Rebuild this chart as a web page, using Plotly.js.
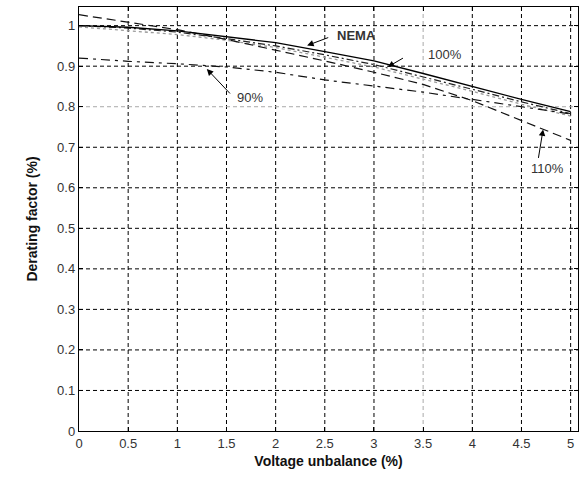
<!DOCTYPE html>
<html>
<head>
<meta charset="utf-8">
<script src="https://cdn.plot.ly/plotly-3.0.1.min.js"></script>
<style>html,body{margin:0;padding:0;background:#fff;}#chart{width:583px;height:477px;}</style>
</head>
<body>
<div id="chart"></div>
<script>
// Voltage unbalance (%)
const unbalance = [0, 0.5, 1, 1.5, 2, 2.5, 3, 3.5, 4, 4.5, 5];
// Derating factor curves
const nema    = [1.000, 0.996, 0.987, 0.972, 0.958, 0.936, 0.913, 0.882, 0.850, 0.818, 0.788];
const load100 = [1.000, 0.994, 0.984, 0.968, 0.950, 0.928, 0.904, 0.874, 0.843, 0.812, 0.783];
const loadGrey= [0.997, 0.988, 0.978, 0.964, 0.946, 0.922, 0.898, 0.868, 0.838, 0.806, 0.777];
const load90  = [0.920, 0.912, 0.906, 0.898, 0.885, 0.866, 0.851, 0.836, 0.818, 0.800, 0.782];
const load110 = [1.027, 1.008, 0.990, 0.966, 0.940, 0.913, 0.885, 0.855, 0.815, 0.765, 0.717];

const xTicks = [0, 0.5, 1, 1.5, 2, 2.5, 3, 3.5, 4, 4.5, 5];
const yTicks = [0, 0.1, 0.2, 0.3, 0.4, 0.5, 0.6, 0.7, 0.8, 0.9, 1];
const xGridGrey = [3.5];
const yGridGrey = [0.8];

const labelText = ['NEMA', '100%', '90%', '110%'];
const labelPos  = [[2.82, 0.975], [3.72, 0.928], [1.74, 0.822], [4.76, 0.647]];
const arrowTail = [[2.55, 0.972], [3.31, 0.922], [1.55, 0.829], [4.67, 0.670]];
const arrowHead = [[2.32, 0.951], [3.14, 0.898], [1.30, 0.893], [4.72, 0.744]];

const traces = [
  {x: unbalance, y: loadGrey, mode: 'lines', line: {color: '#9a9a9a', width: 1.3, dash: '3px,3px'}, hoverinfo: 'skip'},
  {x: unbalance, y: load90, mode: 'lines', line: {color: '#111', width: 1.2, dash: '9px,5px,3px,5px'}},
  {x: unbalance, y: load110, mode: 'lines', line: {color: '#111', width: 1.2, dash: '9px,5px'}},
  {x: unbalance, y: load100, mode: 'lines', line: {color: '#222', width: 1.2, dash: '7px,3px,2px,3px'}},
  {x: unbalance, y: nema, mode: 'lines', line: {color: '#000', width: 1.4}}
];

const shapes = [];
xTicks.filter(v => v > 0).forEach(v => shapes.push({type: 'line', xref: 'x', yref: 'paper', x0: v, x1: v, y0: 0, y1: 1, layer: 'below',
  line: {color: xGridGrey.includes(v) ? '#aaaaaa' : '#000', width: 1, dash: '4px,3px'}}));
yTicks.filter(v => v > 0).forEach(v => shapes.push({type: 'line', xref: 'paper', yref: 'y', x0: 0, x1: 1, y0: v, y1: v, layer: 'below',
  line: {color: yGridGrey.includes(v) ? '#aaaaaa' : '#000', width: 1, dash: '4px,3px'}}));

const annotations = [];
labelText.forEach((t, i) => {
  annotations.push({x: labelPos[i][0], y: labelPos[i][1], xref: 'x', yref: 'y', text: t === 'NEMA' ? '<b>NEMA</b>' : t, showarrow: false,
    font: {family: 'Liberation Sans, Arial, sans-serif', size: 13, color: '#333'}});
  annotations.push({x: arrowHead[i][0], y: arrowHead[i][1], ax: arrowTail[i][0], ay: arrowTail[i][1], xref: 'x', yref: 'y', axref: 'x', ayref: 'y',
    text: '', showarrow: true, arrowhead: 2, arrowsize: 1.3, arrowwidth: 1, arrowcolor: '#000', standoff: 0, startstandoff: 0});
});

const layout = {
  width: 583, height: 477,
  margin: {l: 79, r: 5, t: 7, b: 45.5},
  paper_bgcolor: '#fff', plot_bgcolor: '#fff',
  showlegend: false,
  font: {family: 'Liberation Sans, Arial, sans-serif', size: 13, color: '#333'},
  xaxis: {range: [0, 5.075], tickvals: xTicks, ticktext: xTicks.map(String), showgrid: false, zeroline: false,
    showline: true, linecolor: '#000', linewidth: 1.2, mirror: 'ticks', ticks: 'inside', ticklen: 4, tickcolor: '#000',
    tickfont: {size: 13, color: '#333'},
    title: {text: '<b>Voltage unbalance (%)</b>', font: {size: 14, color: '#111'}, standoff: 6}},
  yaxis: {range: [0, 1.046], tickvals: yTicks, ticktext: yTicks.map(String), showgrid: false, zeroline: false,
    showline: true, linecolor: '#000', linewidth: 1.2, mirror: 'ticks', ticks: 'inside', ticklen: 4, tickcolor: '#000',
    tickfont: {size: 13, color: '#333'},
    title: {text: '<b>Derating factor (%)</b>', font: {size: 14, color: '#111'}, standoff: 16}},
  shapes: shapes,
  annotations: annotations
};

Plotly.newPlot('chart', traces, layout, {displayModeBar: false, staticPlot: true});
</script>
</body>
</html>
